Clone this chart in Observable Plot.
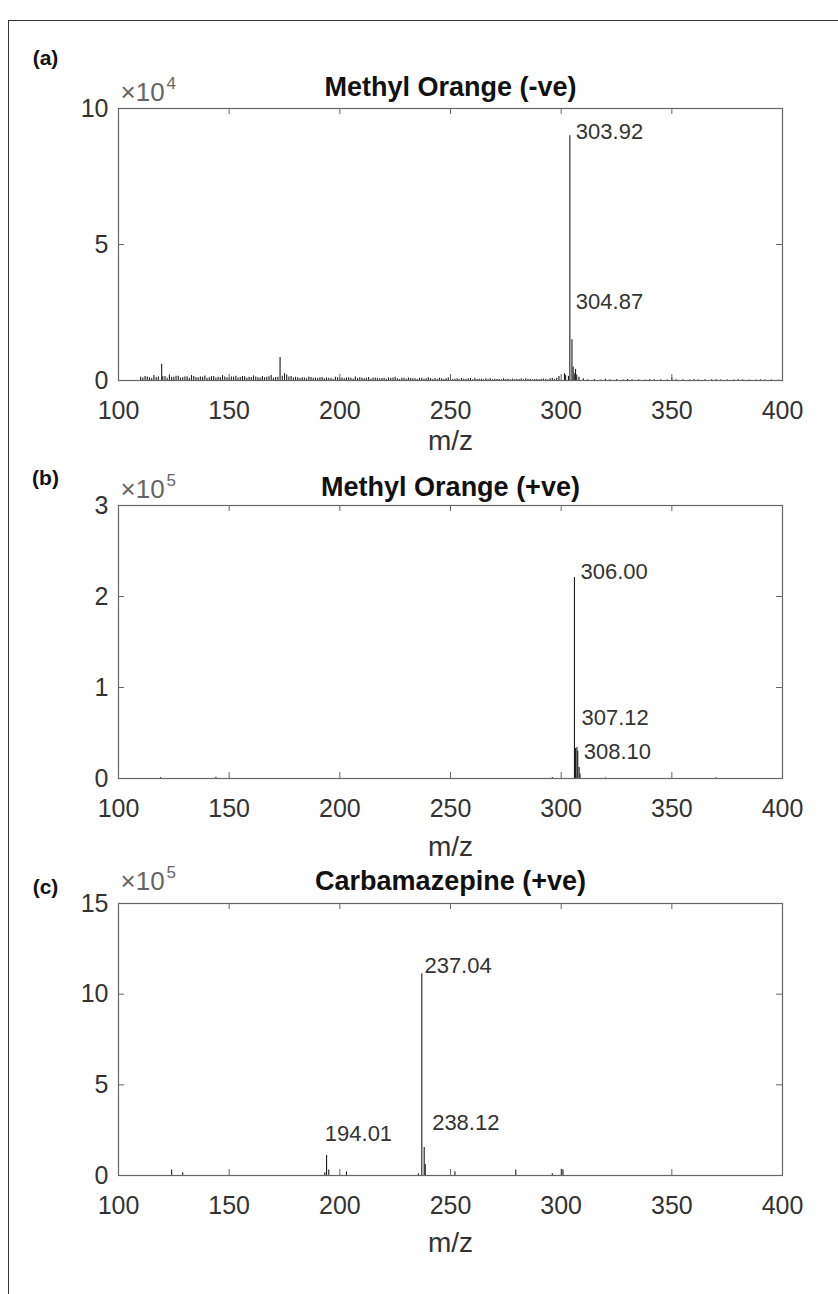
<!DOCTYPE html>
<html><head><meta charset="utf-8">
<script src="https://cdn.jsdelivr.net/npm/d3@7"></script>
<script src="https://cdn.jsdelivr.net/npm/@observablehq/plot@0.6"></script>
<style>
body{margin:0;background:#fff;}
#fig{position:relative;width:838px;height:1294px;overflow:hidden;background:#fff;font-family:"Liberation Sans",Arial,sans-serif;}
#border{position:absolute;left:8px;top:20px;width:900px;height:1400px;border-top:1.5px solid #333;border-left:1.5px solid #333;}
.panel{position:absolute;left:0;}
</style></head><body><div id="fig"><div id="border"></div></div>
<script>
// ---------- Data (m/z, intensity) ----------
const xTicks = [100, 150, 200, 250, 300, 350, 400];

// (a) Methyl Orange (-ve): main peaks
const mzA  = [303.92, 304.87, 305.4, 305.9, 303.3, 301.5, 119.5, 173.0, 175.0];
const intA = [90000, 15000, 5000, 2500, 1500, 2500, 6000, 8500, 2500];
// (a) low-level baseline peaks
const mzA1  = [110,112,114,116,118,121,123,125,127,129,131,133,135,137,139,141,143,145,147,149,151,153,155,157,159,161,163,165,167,169,171,176,178,180,183,186,189,192,195,198,201,204,207,210,213,216,219,222,225,228,231,234,237,240,243,246,249,252,255,258,261,264,268,272,276,280,284,288,292,296,299,310,315,320,325,330,335,340,345,350,355,360,365,370,375,380,385,390,395];
const intA1 = [1200,1500,1000,1800,1300,1500,2000,1200,1600,1000,1400,1800,1100,1300,1700,1000,1500,1200,1800,1000,1300,1600,1100,1400,1200,1700,1000,1500,1200,1800,1100,2000,1500,1200,1000,1300,900,1100,800,1200,900,1000,1300,800,1100,900,700,1000,1200,800,900,600,800,1000,700,600,900,500,700,600,800,500,600,400,500,400,600,400,500,700,1500,600,400,500,300,400,300,400,300,900,300,400,300,300,200,300,200,300,200];
const mzA2  = [111,113,115,117,120,122,124,126,128,130,132,134,136,138,140,142,144,146,148,150,152,154,156,158,160,162,164,166,168,170,172,174,177,179,
  181,182,184,185,187,188,190,191,193,194,196,197,199,200,202,203,205,206,208,209,211,212,214,215,217,218,220,221,223,224,226,227,229,230,232,233,235,236,238,239,241,242,244,245,247,248,
  250,251,253,254,256,257,259,260,262,263,265,266,267,269,270,271,273,274,275,277,278,279,281,282,283,285,286,287,289,290,291,293,294,295,297,298,
  302,306.5,307,308,312,318,322,328,332,338,342,348,352,358,362,368,372,378,382,388,392,398];
const intA2 = [900,1300,700,1100,1400,800,1200,1600,900,1300,700,1500,1000,1200,800,1400,900,1100,1300,700,1200,900,1500,800,1100,1300,900,1000,1400,800,1200,1600,1300,900,
  1000,700,900,600,1100,800,700,1000,600,900,800,500,1000,700,600,900,800,500,700,1000,600,800,500,900,700,600,800,500,700,900,600,400,800,500,700,600,400,800,500,600,700,400,500,800,400,600,
  500,400,600,300,500,400,700,300,400,500,300,600,400,300,500,400,300,600,400,300,500,300,400,600,300,400,500,300,400,300,500,400,300,600,400,800,
  1800,4000,2000,1200,300,200,300,200,300,200,300,200,300,200,200,300,200,200,300,200,200,200];
const labA = ["303.92", "304.87"];
const labAx = [303.92, 303.92];
const labAy = [91500, 28700];

// (b) Methyl Orange (+ve)
const mzB  = [306.00, 306.5, 307.12, 307.5, 308.10, 308.5, 119, 144, 296, 320, 370];
const intB = [221000, 33000, 34000, 30000, 12000, 5000, 800, 1500, 1200, 500, 800];
const labB = ["306.00", "307.12", "308.10"];
const labBx = [306.00, 306.5, 307.5];
const labBy = [227000, 67000, 29000];

// (c) Carbamazepine (+ve)
const mzC  = [237.04, 238.12, 238.6, 194.01, 195.0, 193.2, 124, 129, 203, 235.5, 252, 279.5, 296, 300.2, 300.8];
const intC = [1112000, 155000, 60000, 110000, 30000, 15000, 30000, 15000, 20000, 10000, 20000, 30000, 10000, 35000, 30000];
const labC = ["237.04", "238.12", "194.01"];
const labCx = [235.5, 239.0, 190.5];
const labCy = [1158000, 290000, 230000];

// ---------- Drawing ----------
const FONT = '"Liberation Sans", Arial, Helvetica, sans-serif';
function table(...pairs) {
  const rows = [];
  for (let k = 0; k < pairs.length; k += 2) pairs[k].forEach((m, i) => rows.push({mz: m, i: pairs[k + 1][i]}));
  return rows;
}
function labels(t, x, y) { return t.map((s, i) => ({t: s, x: x[i], y: y[i]})); }

function panel(o) {
  const W = 838, mL = 118, mR = 56, fW = W - mL - mR;
  const svg = Plot.plot({
    width: W,
    height: o.mt + o.fh + o.mb,
    marginLeft: mL, marginRight: mR, marginTop: o.mt, marginBottom: o.mb,
    x: {domain: [100, 400]},
    y: {domain: [0, o.yMax]},
    style: {fontFamily: FONT, background: "transparent", color: "#333", overflow: "visible"},
    marks: [
      Plot.ruleX(o.peaks, {x: "mz", y1: 0, y2: "i", stroke: "#1e1e1e", strokeWidth: 1.1}),
      Plot.frame({stroke: "#666", strokeWidth: 1.2}),
      Plot.ruleX(xTicks, {insetTop: o.fh - 6, stroke: "#666"}),
      Plot.ruleX(xTicks, {insetBottom: o.fh - 6, stroke: "#666"}),
      Plot.ruleY(o.yTicks, {insetRight: fW - 6, stroke: "#666"}),
      Plot.ruleY(o.yTicks, {insetLeft: fW - 6, stroke: "#666"}),
      Plot.axisX({ticks: xTicks, tickSize: 0, tickPadding: 21, fontSize: 25, label: null}),
      Plot.axisY({ticks: o.yTicks, tickSize: 0, tickPadding: 10, fontSize: 25, label: null, tickFormat: d => d / o.scale}),
      Plot.text(o.labels, {x: "x", y: "y", text: "t", textAnchor: "start", dx: 6, fontSize: 22, fill: "#333"}),
      Plot.text([o.title], {frameAnchor: "top", lineAnchor: "middle", dy: o.titleDy, fontWeight: "bold", fontSize: 27, fill: "#111"}),
      Plot.text(["m/z"], {frameAnchor: "bottom", lineAnchor: "middle", dy: o.labDy, fontSize: 28, fill: "#333"}),
      Plot.text(["×10"], {frameAnchor: "top-left", lineAnchor: "middle", dx: 2, dy: o.expDy, textAnchor: "start", fontSize: 26, fill: "#666"}),
      Plot.text([o.exp], {frameAnchor: "top-left", lineAnchor: "middle", dx: 48, dy: o.expDy - 9, textAnchor: "start", fontSize: 17, fill: "#666"}),
      Plot.text([o.tag], {frameAnchor: "top-left", lineAnchor: "middle", dx: -73, dy: o.tagDy, textAnchor: "middle", fontWeight: "bold", fontSize: 21, fill: "#111"})
    ]
  });
  svg.classList.add("panel");
  svg.style.top = o.top + "px";
  document.getElementById("fig").appendChild(svg);
}

panel({peaks: table(mzA, intA, mzA1, intA1, mzA2, intA2), labels: labels(labA, labAx, labAy), yMax: 1e5, yTicks: [0, 5e4, 1e5], scale: 1e4,
  exp: "4", title: "Methyl Orange (-ve)", tag: "(a)", tagDy: -50, titleDy: -21, expDy: -16, labDy: 61, top: 0, mt: 108, fh: 272, mb: 90});
panel({peaks: table(mzB, intB), labels: labels(labB, labBx, labBy), yMax: 3e5, yTicks: [0, 1e5, 2e5, 3e5], scale: 1e5,
  exp: "5", title: "Methyl Orange (+ve)", tag: "(b)", tagDy: -27, titleDy: -18, expDy: -16, labDy: 69, top: 470, mt: 35, fh: 273, mb: 90});
panel({peaks: table(mzC, intC), labels: labels(labC, labCx, labCy), yMax: 15e5, yTicks: [0, 5e5, 10e5, 15e5], scale: 1e5,
  exp: "5", title: "Carbamazepine (+ve)", tag: "(c)", tagDy: -16, titleDy: -22, expDy: -22, labDy: 68, top: 868, mt: 35, fh: 272, mb: 119});
</script></body></html>
